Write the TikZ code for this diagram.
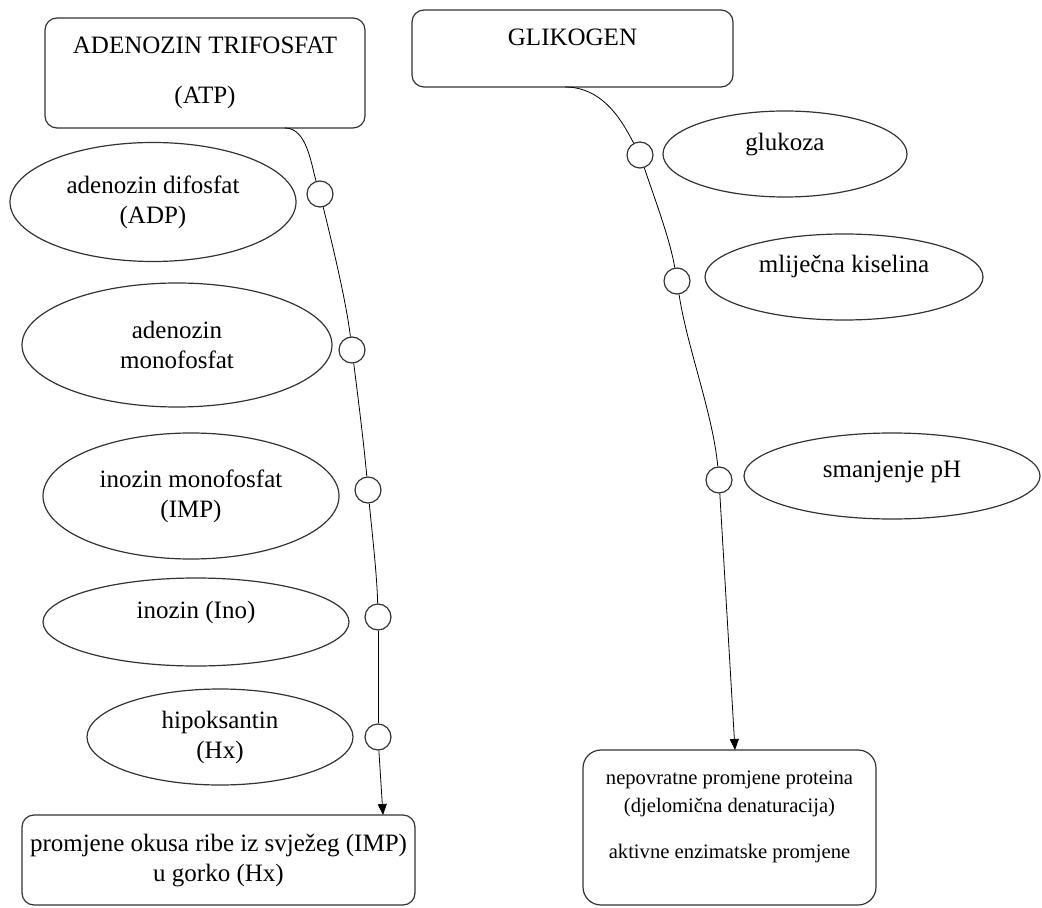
\documentclass[tikz,border=0pt]{standalone}
\usepackage{fontspec}
\setmainfont{Liberation Serif}
\usetikzlibrary{positioning}
\usetikzlibrary{shapes.geometric}
\usetikzlibrary{arrows.meta}
\pgfdeclarelayer{nodelayer}
\pgfdeclarelayer{edgelayer}
\pgfsetlayers{nodelayer,edgelayer,main}
\tikzset{
  box/.style={draw=black!80, line width=0.6pt, rounded corners=6pt, align=center, inner sep=0pt},
  oval/.style={ellipse, draw=black!80, line width=0.6pt, align=center, inner sep=0pt},
  knot/.style={circle, draw=black!80, line width=0.6pt, fill=white, minimum size=13pt, inner sep=0pt},
  lift/.style={text height=8.7pt, text depth=#1},
  flow/.style={-{Triangle[length=5.5pt,width=4.5pt]}}
}

\begin{document}
\begin{tikzpicture}[x=0.5pt, y=-0.5pt, font=\fontsize{12.5}{15}\selectfont, line width=0.6pt]
  \useasboundingbox (0,0) rectangle (1042,908);
  \begin{pgfonlayer}{nodelayer}
    \node [box, minimum width=160pt, minimum height=55pt] (atp) at (205, 73) {ADENOZIN TRIFOSFAT\\[10pt](ATP)};
    \node [box, minimum width=160.5pt, text height=17.7pt, text depth=20.8pt] (glik) at (572.5, 48.5) {GLIKOGEN};
    \node [oval, minimum width=143pt, minimum height=59.5pt] (adp) at (153, 202) {adenozin difosfat\\(ADP)};
    \node [oval, minimum width=155pt, minimum height=62pt] (amp) at (177, 345) {adenozin\\monofosfat};
    \node [oval, minimum width=148pt, minimum height=63pt] (imp) at (191, 496) {inozin monofosfat\\(IMP)};
    \node [oval, lift=11.9pt, minimum width=153pt, minimum height=44pt] (ino) at (196, 622) {inozin (Ino)};
    \node [oval, minimum width=133pt, minimum height=48pt] (hx) at (220, 737) {hipoksantin\\(Hx)};
    \node [oval, lift=11.9pt, minimum width=122pt, minimum height=43pt] (gluk) at (785, 154) {glukoza};
    \node [oval, lift=12.9pt, minimum width=139pt, minimum height=43pt] (mlij) at (844, 277) {mliječna kiselina};
    \node [oval, lift=6.9pt, minimum width=148pt, minimum height=43pt] (ph) at (892, 476) {smanjenje pH};
    \node [box, minimum width=196.5pt, minimum height=45pt] (okus) at (218.5, 860) {promjene okusa ribe iz svježeg (IMP)\\u gorko (Hx)};
    \node [box, rounded corners=9pt, minimum width=146.5pt, minimum height=77.5pt, text depth=13pt,
      font=\fontsize{10.3}{14.3}\selectfont] (prot) at (729.5, 827.5) {nepovratne promjene proteina\\(djelomična denaturacija)\\[8.5pt]aktivne enzimatske promjene};
    \node [knot] (a1) at (320, 194) {};
    \node [knot] (a2) at (352, 350) {};
    \node [knot] (a3) at (368, 490) {};
    \node [knot] (a4) at (378, 617) {};
    \node [knot] (a5) at (378, 737) {};
    \node [knot] (g1) at (640, 155) {};
    \node [knot] (g2) at (677, 281) {};
    \node [knot] (g3) at (719, 480) {};
    \coordinate (a0) at (285, 128);
    \coordinate (a6) at (383, 815);
    \coordinate (g0) at (565, 87);
    \coordinate (g4) at (735, 750);
  \end{pgfonlayer}
  \begin{pgfonlayer}{edgelayer}
    % ATP chain
    \draw (a0) .. controls +(22,0) and +(-9,-30) .. (a1);
    \draw (a1) .. controls +(11,45) and +(-6,-50) .. (a2);
    \draw (a2) .. controls +(6,47) and +(-4,-45) .. (a3);
    \draw (a3) .. controls +(4,42) and +(-1,-42) .. (a4);
    \draw (a4) -- (a5);
    \draw [flow] (a5) -- (a6);
    % glikogen chain
    \draw (g0) .. controls +(40,0) and +(-16,-30) .. (g1);
    \draw (g1) .. controls +(14,42) and +(-7,-42) .. (g2);
    \draw (g2) .. controls +(10,66) and +(-6,-66) .. (g3);
    \draw [flow] (g3) -- (g4);
  \end{pgfonlayer}
\end{tikzpicture}
\end{document}
